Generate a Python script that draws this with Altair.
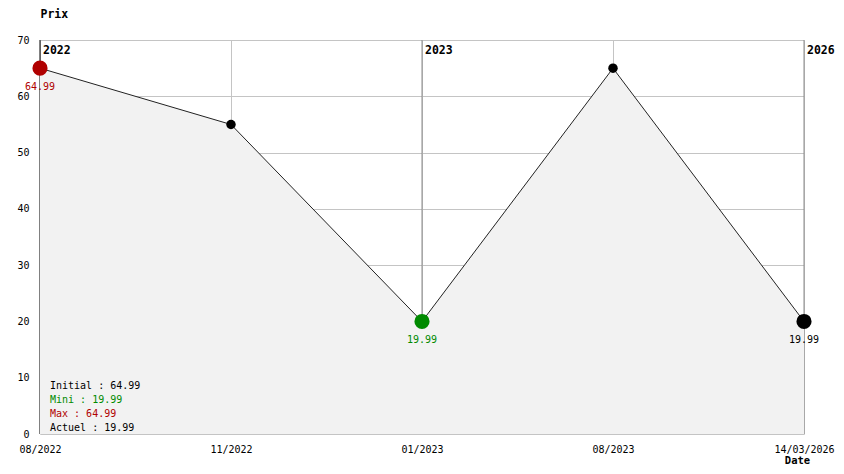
import altair as alt
import pandas as pd

# ---- data ----
dates = ["08/2022", "11/2022", "01/2023", "08/2023", "14/03/2026"]
prices = [64.99, 54.99, 19.99, 64.99, 19.99]
year_dates = ["08/2022", "01/2023", "14/03/2026"]
year_labels = ["2022", "2023", "2026"]
summary_names = ["Initial", "Mini", "Max", "Actuel"]
summary_values = [64.99, 19.99, 64.99, 19.99]

MONO = "DejaVu Sans Mono"

i_max = prices.index(max(prices))
i_min = prices.index(min(prices))
i_last = len(prices) - 1
roles = []
for i in range(len(prices)):
    if i == i_max:
        roles.append("max")
    elif i == i_min:
        roles.append("min")
    elif i == i_last:
        roles.append("actuel")
    else:
        roles.append("autre")

df = pd.DataFrame({"date": dates, "prix": prices, "role": roles})
df["label"] = [f"{p:.2f}" for p in prices]
years = pd.DataFrame({"date": year_dates, "annee": year_labels})
years["kind"] = ["first"] + ["other"] * (len(year_dates) - 1)

role_dom = ["max", "min", "actuel", "autre"]
role_col = ["#b00000", "#008a00", "#000000", "#000000"]

x = alt.X(
    "date:O",
    sort=dates,
    scale=alt.Scale(type="point", padding=0, domain=dates),
    axis=alt.Axis(
        title="Date", labelAngle=0, labelAlign="center", labelBaseline="top",
        labelFont=MONO, labelFontSize=10,
        labelColor="#000", labelPadding=10, labelOverlap=False, domain=False,
        ticks=False, grid=True, gridColor="#c4c4c4", titleFont=MONO,
        titleFontSize=10.5, titleFontWeight="bold", titleColor="#000",
        titleX=757, titleY=29, titleAlign="center", titleBaseline="alphabetic",
    ),
)
y = alt.Y(
    "prix:Q",
    scale=alt.Scale(domain=[0, 70], nice=False),
    axis=alt.Axis(
        title="Prix", values=list(range(0, 71, 10)), labelFont=MONO,
        labelFontSize=10, labelColor="#000", labelPadding=11, domain=False,
        ticks=False, grid=True, gridColor="#c4c4c4", titleFont=MONO,
        titleFontSize=11.5, titleFontWeight="bold", titleColor="#000",
        titleAngle=0, titleX=0, titleY=-26, titleAlign="left",
        titleBaseline="middle",
    ),
)

base = alt.Chart(df)

year_rules = alt.Chart(years).mark_rule(strokeWidth=1).encode(
    x=alt.X("date:O", sort=dates),
    color=alt.Color("kind:N", scale=alt.Scale(domain=["first", "other"], range=["#000000", "#8c8c8c"]), legend=None),
)

area = base.mark_area(color="#f2f2f2", opacity=1).encode(x=x, y=y)
line = base.mark_line(color="#222222", strokeWidth=1).encode(x=x, y=y)
role_color = alt.Color("role:N", scale=alt.Scale(domain=role_dom, range=role_col), legend=None)
big_points = base.transform_filter(alt.datum.role != "autre").mark_circle(
    opacity=1, size=230
).encode(x=x, y=y, color=role_color)
small_points = base.transform_filter(alt.datum.role == "autre").mark_circle(
    opacity=1, size=90, color="#000000"
).encode(x=x, y=y)
vlabels = base.transform_filter(alt.datum.role != "autre").mark_text(
    font=MONO, fontSize=10, dy=19, baseline="middle", align="center"
).encode(x=x, y=y, text="label:N", color=role_color)
year_text = alt.Chart(years).mark_text(
    font=MONO, fontSize=11.5, fontWeight="bold", align="left", baseline="middle",
    dx=3, color="#000",
).encode(x=alt.X("date:O", sort=dates), y=alt.value(11), text="annee:N")

sum_colors = ["#000000", "#008a00", "#b00000", "#000000"]
sum_layers = []
for k, (n, v) in enumerate(zip(summary_names, summary_values)):
    sdf = pd.DataFrame({"t": [f"{n} : {v:.2f}"]})
    sum_layers.append(
        alt.Chart(sdf).mark_text(
            font=MONO, fontSize=10, align="left", baseline="middle", color=sum_colors[k]
        ).encode(x=alt.value(10), y=alt.value(346 + 14 * k), text="t:N")
    )

chart = alt.layer(
    year_rules, area, line, small_points, big_points, vlabels, year_text, *sum_layers
).resolve_scale(color="independent").properties(
    width=764, height=394,
    autosize=alt.AutoSizeParams(type="none"),
    padding={"left": 32, "top": 32, "right": 32, "bottom": 32},
    background="#ffffff",
).configure_view(stroke=None)

chart.save("out.html", embed_options={"renderer": "svg", "actions": False})
